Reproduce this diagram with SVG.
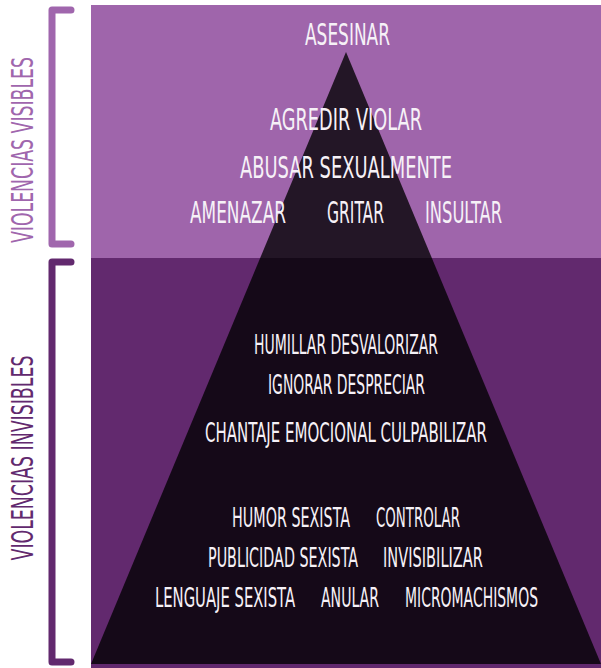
<svg xmlns="http://www.w3.org/2000/svg" width="601" height="668" viewBox="0 0 601 668">
<style>
.t{font-family:"DejaVu Sans Condensed","DejaVu Sans",sans-serif;fill:#f6f1f7;text-anchor:start}
.u{font-size:31px}
.l{font-size:26px}
.s{font-family:"DejaVu Sans Condensed","DejaVu Sans",sans-serif;font-size:31px;text-anchor:middle}
.br{fill:none;stroke-width:7;stroke-linecap:round;stroke-linejoin:round}
</style>
<rect width="601" height="668" fill="#ffffff"/>
<g id="bands">
<rect x="91" y="5" width="510" height="254" fill="#9f65ab"/>
<rect x="91" y="258" width="510" height="410" fill="#62296e"/>
</g>
<g id="pyramid">
<polygon points="346,52 601,664 91,664" fill="#000" fill-opacity="0.78"/>
</g>
<g id="connectors">
<path class="br" stroke="#a066ad" d="M71,10 H52 V244 H71"/>
<path class="br" stroke="#62296e" d="M71,262 H52 V662 H71"/>
</g>
<g id="label-visibles">
<text class="s" fill="#a066ad" x="33" y="150" transform="rotate(-90 33 150)" textLength="186" lengthAdjust="spacingAndGlyphs">VIOLENCIAS VISIBLES</text>
</g>
<g id="label-invisibles">
<text class="s" fill="#62296e" x="33" y="458" transform="rotate(-90 33 458)" textLength="205" lengthAdjust="spacingAndGlyphs">VIOLENCIAS INVISIBLES</text>
</g>
<g id="visible-terms">
<text class="t u" x="305" y="45" textLength="85" lengthAdjust="spacingAndGlyphs">ASESINAR</text>
<text class="t u" x="270" y="130" textLength="152" lengthAdjust="spacingAndGlyphs">AGREDIR VIOLAR</text>
<text class="t u" x="240" y="178" textLength="212" lengthAdjust="spacingAndGlyphs">ABUSAR SEXUALMENTE</text>
<text class="t u" x="190" y="223" textLength="96" lengthAdjust="spacingAndGlyphs">AMENAZAR</text>
<text class="t u" x="327" y="223" textLength="57" lengthAdjust="spacingAndGlyphs">GRITAR</text>
<text class="t u" x="425" y="223" textLength="77" lengthAdjust="spacingAndGlyphs">INSULTAR</text>
</g>
<g id="invisible-terms">
<text class="t l" x="254" y="354" textLength="184" lengthAdjust="spacingAndGlyphs">HUMILLAR DESVALORIZAR</text>
<text class="t l" x="268" y="394" textLength="157" lengthAdjust="spacingAndGlyphs">IGNORAR DESPRECIAR</text>
<text class="t l" x="205" y="442" textLength="282" lengthAdjust="spacingAndGlyphs">CHANTAJE EMOCIONAL CULPABILIZAR</text>
<text class="t l" x="232" y="527" textLength="118" lengthAdjust="spacingAndGlyphs">HUMOR SEXISTA</text>
<text class="t l" x="376" y="527" textLength="84" lengthAdjust="spacingAndGlyphs">CONTROLAR</text>
<text class="t l" x="208" y="567" textLength="150" lengthAdjust="spacingAndGlyphs">PUBLICIDAD SEXISTA</text>
<text class="t l" x="383" y="567" textLength="100" lengthAdjust="spacingAndGlyphs">INVISIBILIZAR</text>
<text class="t l" x="155" y="607" textLength="140" lengthAdjust="spacingAndGlyphs">LENGUAJE SEXISTA</text>
<text class="t l" x="321" y="607" textLength="58" lengthAdjust="spacingAndGlyphs">ANULAR</text>
<text class="t l" x="405" y="607" textLength="133" lengthAdjust="spacingAndGlyphs">MICROMACHISMOS</text>
</g>
</svg>
